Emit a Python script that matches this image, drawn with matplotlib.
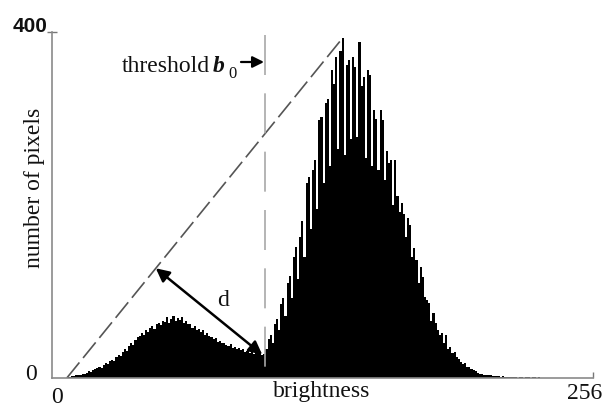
import numpy as np
import matplotlib
matplotlib.use("Agg")
import matplotlib.pyplot as plt

# ---------------- data ----------------
n_bins = 256
hist_left = [  # bins 0..100
    0, 0, 0, 0, 0, 0, 0,
    1, 1, 2, 2, 3, 3, 4, 5, 5, 6, 8, 7, 9, 10,
    11, 13, 12, 15, 17, 16, 20, 21, 20, 24, 27, 25, 30, 33, 31, 37, 40, 38, 44, 47,
    48, 52, 50, 55, 53, 58, 60, 57, 62, 64, 61, 66, 65, 70, 64, 68, 72, 66, 69, 67,
    70, 64, 66, 62, 63, 58, 60, 56, 57, 53, 55, 50, 52, 48, 47, 45, 46, 42, 43, 40,
    41, 38, 37, 39, 35, 36, 34, 35, 32, 33, 30, 31, 29, 31, 28, 30, 29, 29, 27, 28,
]
hist_right = [  # bins 101..230
    33, 45, 50, 40, 62, 68, 55, 86, 92, 72,
    110, 118, 92, 140, 152, 115, 163, 182, 140, 225,
    232, 172, 240, 252, 195, 298, 302, 225, 318, 322,
    245, 356, 340, 371, 265, 378, 393, 258, 362, 368,
    276, 371, 360, 279, 389, 338, 348, 254, 356, 350,
    245, 310, 300, 240, 310, 298, 229, 262, 248, 252,
    200, 252, 210, 192, 202, 190, 163, 185, 177, 140,
    150, 136, 110, 128, 117, 94, 90, 87, 66, 75,
    64, 56, 50, 52, 40, 50, 33, 36, 29, 30,
    24, 22, 19, 16, 17, 13, 13, 10, 9, 8,
    6, 5, 5, 4, 3, 3, 3, 2, 2, 2,
    2, 1, 2, 1, 1, 1, 1, 1, 1, 0,
    1, 1, 0, 1, 1, 0, 1, 1, 0, 1,
]
hist_tail = [0] * 25  # bins 231..255
counts = np.array(hist_left + hist_right + hist_tail, dtype=float)
assert len(counts) == n_bins

x_ticklabels = ["0", "256"]
y_ticklabels = ["0", "400"]
first_bin = 7        # first non-empty brightness
peak_bin = 137       # histogram maximum
d_bin = 99           # point of maximum distance
threshold = 101      # b0

# ---------------- figure ----------------
W, H = 606, 407
fig = plt.figure(figsize=(W / 100, H / 100), dpi=100)
ax = fig.add_axes([52 / W, (H - 378) / H, 541 / W, 346 / H])
ax.set_xlim(0, 256)
ax.set_ylim(0, 400)

serif = ["Liberation Serif", "DejaVu Serif"]
sans = ["Liberation Sans", "DejaVu Sans"]

# histogram
edges = np.arange(n_bins + 1)
ax.stairs(counts, edges, fill=True, color="black", linewidth=0)

# spines / ticks
for s in ["top", "right"]:
    ax.spines[s].set_visible(False)
for s in ["left", "bottom"]:
    ax.spines[s].set_color("#8a8a8a")
    ax.spines[s].set_linewidth(1.2)
ax.set_xticks([256])
ax.set_yticks([400])
ax.tick_params(axis="x", direction="in", length=4.5, width=1.0, color="#777777", labelbottom=False)
ax.tick_params(axis="y", direction="inout", length=7, width=1.0, color="#777777", labelleft=False)

# triangle line
xs = [first_bin, peak_bin + 0.5]
ys = [0, counts[peak_bin]]
ax.plot(xs, ys, color="#555555", lw=1.2, linestyle=(0, (12, 3.5)), solid_capstyle="butt")

# threshold vertical line (dash pattern starts at the top)
ax.plot([threshold, threshold], [396, 0], color="#a8a8a8", lw=1.2, linestyle=(0, (24, 11)))

# perpendicular d arrow (computed in display space)
tr = ax.transData
p0 = tr.transform((xs[0], ys[0]))
p1 = tr.transform((xs[1], ys[1]))
q = tr.transform((d_bin + 0.5, counts[d_bin]))
u = (p1 - p0) / np.linalg.norm(p1 - p0)
foot = p0 + np.dot(q - p0, u) * u
foot_data = tr.inverted().transform(foot)
ax.annotate("", xy=foot_data, xytext=(d_bin + 0.5, counts[d_bin]),
            arrowprops=dict(arrowstyle="<|-|>", lw=1.8, color="black",
                            mutation_scale=20, shrinkA=0, shrinkB=0))
ax.text(81, 90, "d", family=serif, fontsize=17, ha="center", va="center", color="#111111")

# threshold label
def px(x, y):
    return ((x - 52) / 541 * 256, (378 - y) / 346 * 400)

ax.text(*px(122, 72), "threshold", family=serif, fontsize=17, ha="left", va="baseline", color="#111111")
ax.text(*px(213, 72), "b", family=serif, fontsize=17, style="italic", weight="bold",
        ha="left", va="baseline", color="#111111")
ax.text(*px(228, 78), "0", family=serif, fontsize=12, ha="left", va="baseline", color="#111111")
ax.annotate("", xy=px(264, 62), xytext=px(241, 62),
            arrowprops=dict(arrowstyle="-|>", lw=1.6, color="black", mutation_scale=17,
                            shrinkA=0, shrinkB=0))

# axis labels
def fpx(x, y):
    return (x / W, 1 - y / H)

fig.text(*fpx(35, 188), "number of pixels", family=serif, fontsize=17, rotation=90,
         ha="center", va="center", color="#111111")
fig.text(*fpx(322, 397), "brightness", family=serif, fontsize=17, ha="center", va="baseline", color="#111111")
fig.text(*fpx(57, 403), x_ticklabels[0], family=serif, fontsize=17, ha="center", va="baseline", color="#111111")
fig.text(*fpx(585, 399), x_ticklabels[1], family=serif, fontsize=17, ha="center", va="baseline", color="#111111")
fig.text(*fpx(31, 380), y_ticklabels[0], family=serif, fontsize=17, ha="center", va="baseline", color="#111111")
fig.text(*fpx(30, 32), y_ticklabels[1], family=sans, fontsize=15, weight="bold", ha="center", va="baseline", color="#111111")

fig.savefig("out.png", dpi=100)
